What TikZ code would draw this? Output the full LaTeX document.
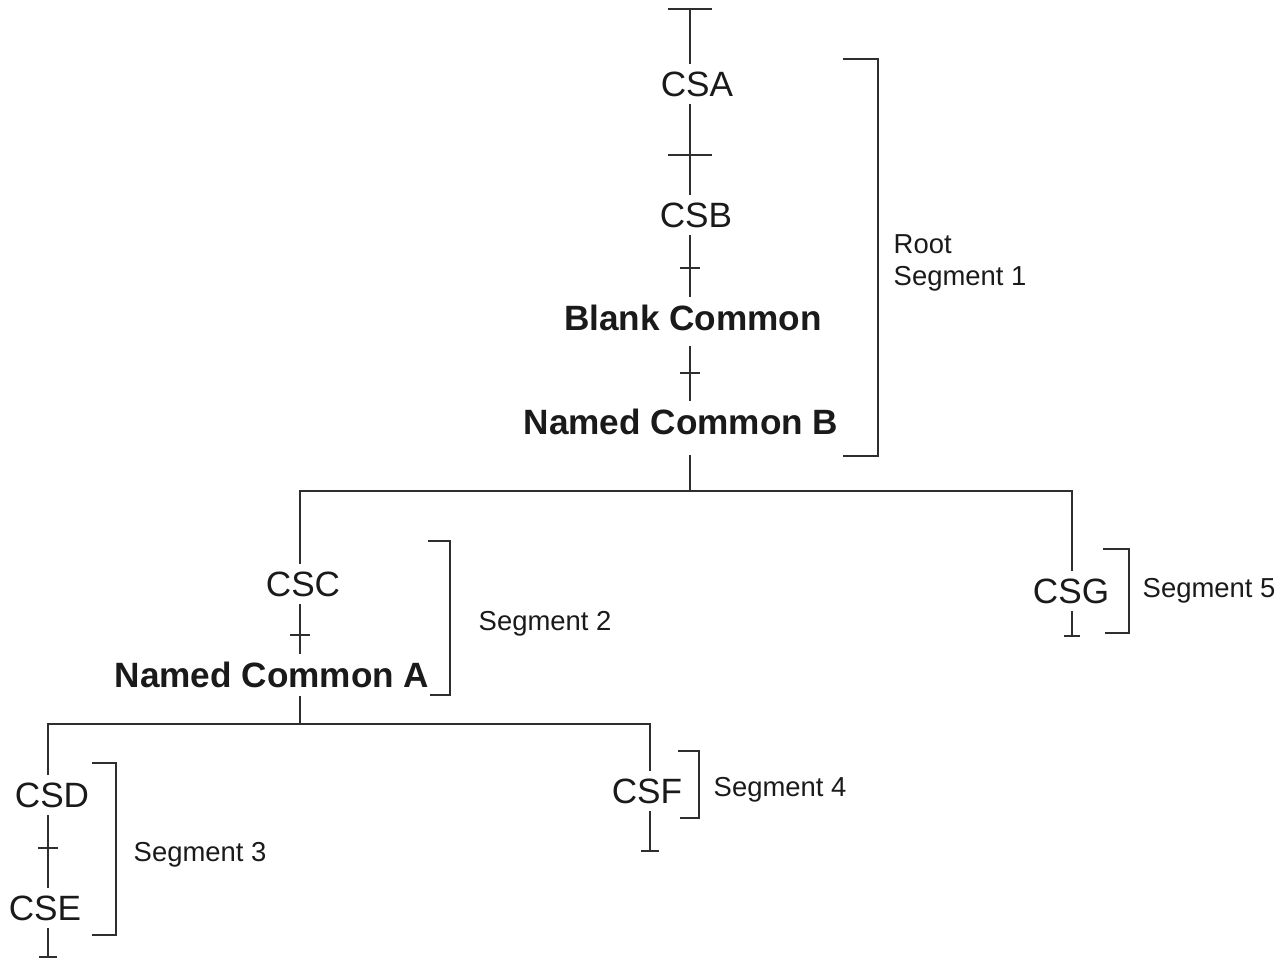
\documentclass[tikz,border=0pt]{standalone}
\usepackage{fontspec}
\setmainfont{Liberation Sans}
\usetikzlibrary{arrows.meta, calc}
\definecolor{lineblack}{HTML}{2E2E2E}
\definecolor{textblack}{HTML}{1A1A1A}

\tikzset{
  csect/.style={font=\fontsize{10}{12}\selectfont, text=textblack, inner sep=2pt},
  common/.style={csect, font=\fontsize{10}{12}\selectfont\bfseries},
  seglabel/.style={font=\fontsize{7.8}{9.1}\selectfont, text=textblack, align=left, anchor=base west, inner sep=0pt},
  wire/.style={draw=lineblack, line width=0.55pt},
  bracket/.style={draw=lineblack, line width=0.55pt}
}

\begin{document}
\begin{tikzpicture}[x=0.01cm, y=-0.01cm]
      \useasboundingbox (0,0) rectangle (1288,963);

      % stems and split points
      \coordinate (top) at (690,8);
      \coordinate (stem) at (690,0);
      \coordinate (split1) at (690,491);
      \coordinate (split2) at (300,724);
      \coordinate (stem3) at (48,0);
      \coordinate (end3) at (48,958);
      \coordinate (end4) at (650,852);
      \coordinate (end5) at (1072,637);

      % sections
      \node[csect] (csa) at (697,84) {CSA};
      \node[csect] (csb) at (696,215) {CSB};
      \node[common] (bc) at (693,318) {Blank Common};
      \node[common] (ncb) at (681,422) {Named Common B};
      \node[csect] (csc) at (303,584) {CSC};
      \node[common] (nca) at (272,675) {Named Common A};
      \node[csect] (csd) at (52,795) {CSD};
      \node[csect] (cse) at (45,908) {CSE};
      \node[csect] (csf) at (647,791) {CSF};
      \node[csect] (csg) at (1071,591) {CSG};

      % Root segment
      \draw[wire, {Bar[width=12.5pt]}-] (top) -- (csa.north -| stem);
      \draw[wire] (csa.south -| stem) -- (csb.north -| stem);
      \draw[wire] (csb.south -| stem) -- (bc.north -| stem);
      \draw[wire, shorten <=2pt] (bc.south -| stem) -- (ncb.north -| stem);
      \draw[wire, shorten <=3.5pt] (ncb.south -| stem) -- (split1);

      \coordinate (t1) at (690,155);
      \coordinate (t2) at (690,268);
      \coordinate (t3) at (690,373);
      \draw[wire] (t1) +(-22,0) -- +(22,0);
      \draw[wire] (t2) +(-10,0) -- +(10,0);
      \draw[wire] (t3) +(-10,0) -- +(10,0);

      \draw[bracket] (843,59) -| (878,456) -- (843,456);
      \node[seglabel] (seg1) at (893,285) {Root\\Segment 1};

      % Segment 2
      \draw[wire] (csc.north -| split2) |- (split1) -| (csg.north -| end5);
      \draw[wire] (csc.south -| split2) -- (nca.north -| split2);
      \draw[wire] (nca.south -| split2) -- (split2);

      \coordinate (t4) at (300,635);
      \draw[wire] (t4) +(-10,0) -- +(10,0);

      \draw[bracket] (428,541) -| (450,695) -- (430,695);
      \node[seglabel] (seg2) at (478,630) {Segment 2};

      % Segment 3
      \draw[wire] (csd.north -| stem3) |- (split2) -| (csf.north -| end4);
      \draw[wire] (csd.south -| stem3) -- (cse.north -| stem3);
      \draw[wire, -{Bar[width=5pt]}] (cse.south -| stem3) -- (end3);

      \coordinate (t5) at (48,848);
      \draw[wire] (t5) +(-10,0) -- +(10,0);

      \draw[bracket] (92,763) -| (116,935) -- (92,935);
      \node[seglabel] (seg3) at (133,861) {Segment 3};

      % Segment 4
      \draw[wire, -{Bar[width=5pt]}] (csf.south -| end4) -- (end4);

      \draw[bracket] (678,751) -| (699,818) -- (680,818);
      \node[seglabel] (seg4) at (713,796) {Segment 4};

      % Segment 5
      \draw[wire, -{Bar[width=4.5pt]}] (csg.south -| end5) -- (end5);

      \draw[bracket] (1103,549) -| (1129,633) -- (1105,633);
      \node[seglabel] (seg5) at (1142,597) {Segment 5};
    \end{tikzpicture}
\end{document}
